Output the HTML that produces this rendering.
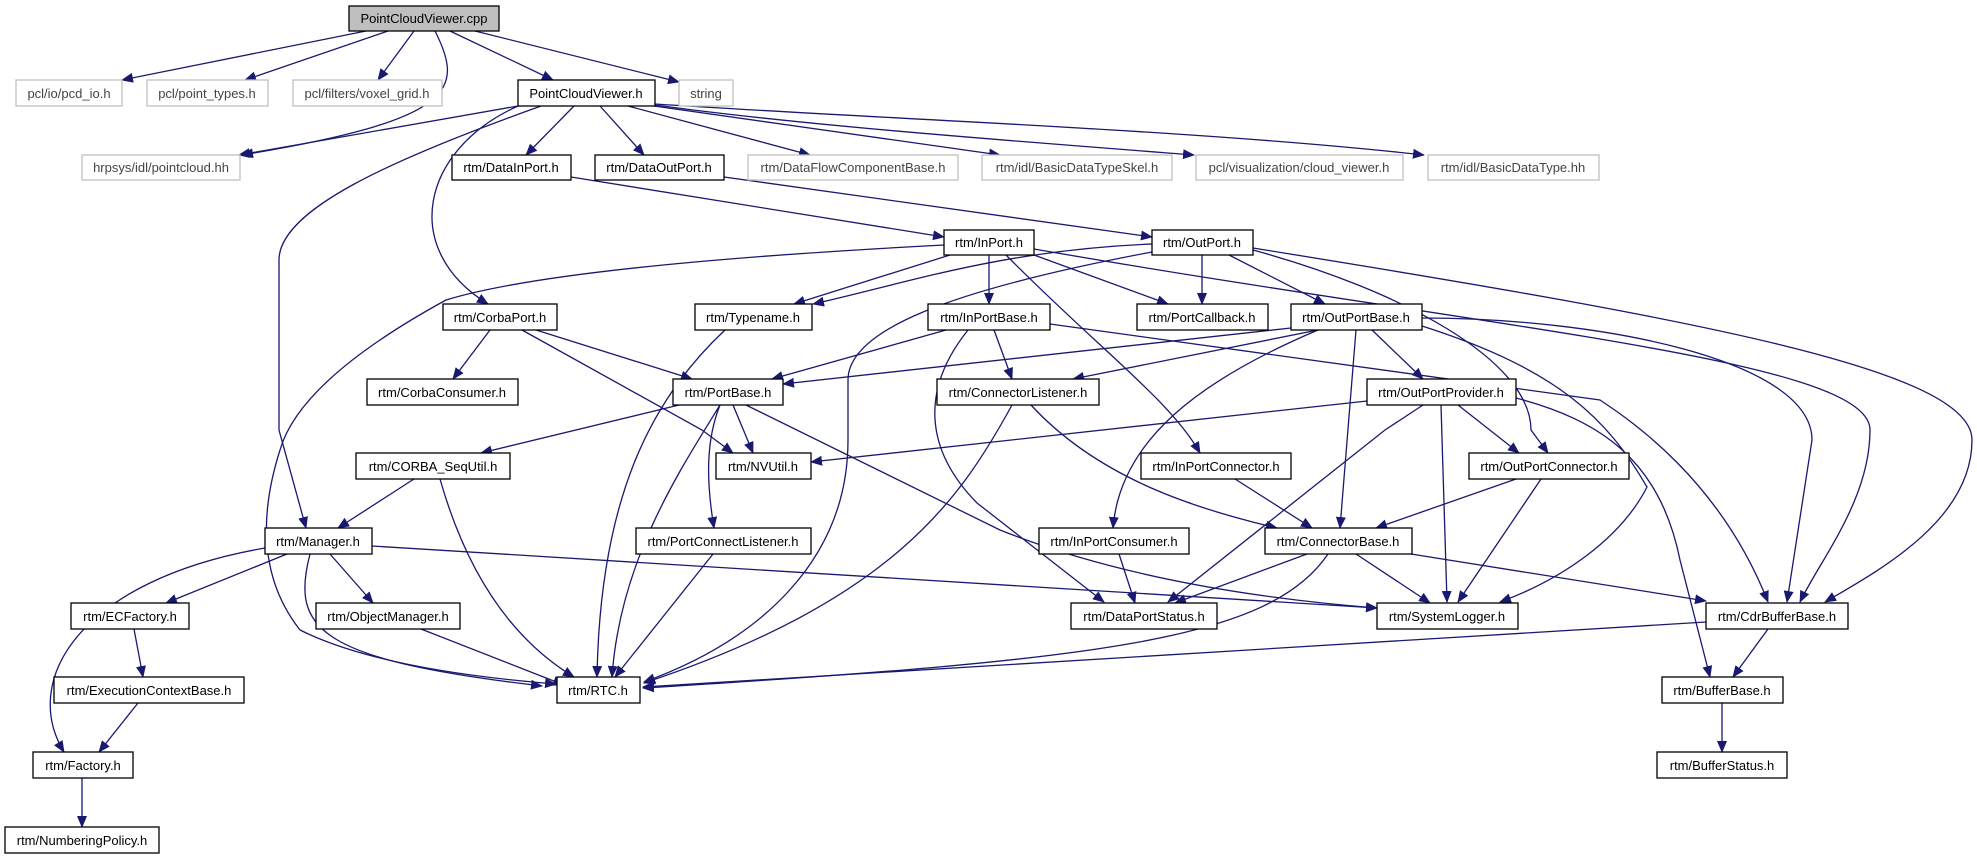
<!DOCTYPE html>
<html><head><meta charset="utf-8"><style>
html,body{margin:0;padding:0;background:#fff;}
svg{display:block;}
text{font-family:"Liberation Sans",sans-serif;font-size:13px;}
</style></head><body>
<svg width="1977" height="859" viewBox="0 0 1977 859" xmlns="http://www.w3.org/2000/svg">
<defs>
<marker id="a" markerUnits="userSpaceOnUse" markerWidth="12" markerHeight="10" refX="11" refY="5" orient="auto">
<path d="M0,0 L12,5 L0,10 z" fill="#191970"/>
</marker>
</defs>
<g fill="none" stroke="#191970" stroke-width="1.3" marker-end="url(#a)">
<!-- cpp -->
<path d="M366,31 L122,80"/>
<path d="M388,31 L245,80"/>
<path d="M414,31 L378,80"/>
<path d="M435,31 C465,90 455,120 242,155"/>
<path d="M450,31 L553,80"/>
<path d="M475,31 L679,82"/>
<!-- PointCloudViewer.h -->
<path d="M518,106 L239,155"/>
<path d="M541,106 C390,160 279,210 279,260 L279,430 L306,528"/>
<path d="M518,106 C420,150 400,250 488,304"/>
<path d="M574,106 L526,155"/>
<path d="M600,106 L644,155"/>
<path d="M628,106 L810,155"/>
<path d="M654,106 L1000,155"/>
<path d="M655,105 C800,125 1000,140 1194,155"/>
<path d="M655,104 C900,120 1200,130 1424,155"/>
<!-- DataInPort / DataOutPort -->
<path d="M571,177 L944,237"/>
<path d="M724,177 L1152,237"/>
<!-- InPort.h -->
<path d="M944,245 Q560,265 446,300 Q300,380 280,450 Q245,560 300,630 Q380,670 556,684"/>
<path d="M950,255 L794,304"/>
<path d="M989,255 L989,304"/>
<path d="M1034,255 L1168,304"/>
<path d="M1006,255 C1100,350 1170,400 1200,453"/>
<path d="M1034,249 C1500,330 1870,360 1870,430 C1870,500 1820,560 1800,602"/>
<!-- OutPort.h -->
<path d="M1152,244 C1000,250 900,285 813,304"/>
<path d="M1152,252 C950,290 848,330 848,380 L848,440 C848,560 760,640 644,682"/>
<path d="M1202,255 L1202,304"/>
<path d="M1229,255 L1325,304"/>
<path d="M1253,250 C1400,290 1531,360 1531,430 L1548,453"/>
<path d="M1253,248 C1700,320 1972,370 1972,440 C1972,520 1880,570 1825,602"/>
<!-- InPortBase -->
<path d="M946,330 L772,379"/>
<path d="M994,330 L1012,379"/>
<path d="M968,330 C920,390 925,450 977,503 L1104,602"/>
<path d="M1050,324 L1600,400 C1630,420 1720,480 1768,602"/>
<!-- OutPortBase -->
<path d="M1291,328 L783,384"/>
<path d="M1318,330 L1073,379"/>
<path d="M1318,330 C1200,380 1120,440 1113,528"/>
<path d="M1356,330 L1340,528"/>
<path d="M1372,330 L1423,379"/>
<path d="M1422,318 C1600,318 1812,360 1812,440 L1787,602"/>
<path d="M1422,326 C1560,370 1608,420 1647,487 C1620,540 1560,580 1500,602"/>
<!-- OutPortProvider -->
<path d="M1367,401 L811,462"/>
<path d="M1423,405 L1385,430 L1168,602"/>
<path d="M1441,405 L1447,602"/>
<path d="M1458,405 L1519,453"/>
<path d="M1516,398 C1600,420 1660,460 1680,560 L1710,677"/>
<!-- PortBase -->
<path d="M679,405 L481,453"/>
<path d="M733,405 L753,453"/>
<path d="M720,405 C680,470 620,560 612,677"/>
<path d="M720,405 C706,440 706,480 714,528"/>
<path d="M746,405 L1000,530 Q1150,590 1377,608"/>
<!-- CorbaPort -->
<path d="M490,330 L453,379"/>
<path d="M536,330 L692,379"/>
<path d="M522,330 L702,430 L733,453"/>
<!-- Typename -->
<path d="M725,330 C650,400 600,500 597,677"/>
<!-- ConnectorListener -->
<path d="M1012,405 C960,500 893,600 644,683"/>
<path d="M1031,405 C1100,480 1200,510 1277,528"/>
<!-- CORBA_SeqUtil -->
<path d="M414,479 L338,528"/>
<path d="M440,479 Q480,620 574,677"/>
<!-- connectors -->
<path d="M1235,479 L1312,528"/>
<path d="M1516,479 L1376,528"/>
<path d="M1541,479 L1458,602"/>
<!-- Manager -->
<path d="M372,546 L1377,608"/>
<path d="M265,548 C80,580 20,680 64,752"/>
<path d="M287,554 L166,603"/>
<path d="M310,554 C290,630 320,660 542,686"/>
<path d="M330,554 L373,603"/>
<!-- misc -->
<path d="M134,629 L143,677"/>
<path d="M138,703 L99,752"/>
<path d="M421,629 L564,685"/>
<path d="M713,554 L615,677"/>
<path d="M82,778 L82,827"/>
<path d="M1119,554 L1135,603"/>
<path d="M1307,554 L1175,603"/>
<path d="M1356,554 L1430,603"/>
<path d="M1328,554 C1270,640 1100,660 643,688"/>
<path d="M1411,554 L1706,601"/>
<path d="M1706,622 L643,687"/>
<path d="M1768,629 L1733,677"/>
<path d="M1722,703 L1722,752"/>
</g>
<g stroke-width="1.3">
<!-- gray nodes -->
<g fill="#fff" stroke="#bfbfbf">
<rect x="16" y="80" width="106" height="26"/>
<rect x="147" y="80" width="121" height="26"/>
<rect x="293" y="80" width="149" height="26"/>
<rect x="679" y="80" width="54" height="26"/>
<rect x="82" y="155" width="158" height="25"/>
<rect x="748" y="155" width="210" height="25"/>
<rect x="982" y="155" width="190" height="25"/>
<rect x="1196" y="155" width="207" height="25"/>
<rect x="1428" y="155" width="171" height="25"/>
</g>
<rect x="349" y="6" width="150" height="25" fill="#bfbfbf" stroke="#000"/>
<g fill="#fff" stroke="#000">
<rect x="518" y="80" width="137" height="26"/>
<rect x="452" y="155" width="119" height="25"/>
<rect x="595" y="155" width="129" height="25"/>
<rect x="944" y="230" width="90" height="25"/>
<rect x="1152" y="230" width="101" height="25"/>
<rect x="443" y="304" width="114" height="26"/>
<rect x="695" y="304" width="117" height="26"/>
<rect x="928" y="304" width="122" height="26"/>
<rect x="1137" y="304" width="131" height="26"/>
<rect x="1291" y="304" width="131" height="26"/>
<rect x="367" y="379" width="151" height="26"/>
<rect x="673" y="379" width="110" height="26"/>
<rect x="937" y="379" width="162" height="26"/>
<rect x="1367" y="379" width="149" height="26"/>
<rect x="356" y="453" width="154" height="26"/>
<rect x="716" y="453" width="95" height="26"/>
<rect x="1141" y="453" width="150" height="26"/>
<rect x="1469" y="453" width="160" height="26"/>
<rect x="265" y="528" width="107" height="26"/>
<rect x="636" y="528" width="175" height="26"/>
<rect x="1039" y="528" width="150" height="26"/>
<rect x="1265" y="528" width="147" height="26"/>
<rect x="71" y="603" width="118" height="26"/>
<rect x="316" y="603" width="144" height="26"/>
<rect x="1071" y="603" width="146" height="26"/>
<rect x="1377" y="603" width="141" height="26"/>
<rect x="1706" y="603" width="142" height="26"/>
<rect x="54" y="677" width="190" height="26"/>
<rect x="557" y="677" width="83" height="26"/>
<rect x="1662" y="677" width="121" height="26"/>
<rect x="33" y="752" width="100" height="26"/>
<rect x="1657" y="752" width="130" height="26"/>
<rect x="5" y="827" width="154" height="26"/>
</g>
</g>
<g text-anchor="middle" fill="#000">
<g fill="#444">
<text x="69" y="98">pcl/io/pcd_io.h</text>
<text x="207" y="98">pcl/point_types.h</text>
<text x="367" y="98">pcl/filters/voxel_grid.h</text>
<text x="706" y="98">string</text>
<text x="161" y="172">hrpsys/idl/pointcloud.hh</text>
<text x="853" y="172">rtm/DataFlowComponentBase.h</text>
<text x="1077" y="172">rtm/idl/BasicDataTypeSkel.h</text>
<text x="1299" y="172">pcl/visualization/cloud_viewer.h</text>
<text x="1513" y="172">rtm/idl/BasicDataType.hh</text>
</g>
<text x="424" y="23">PointCloudViewer.cpp</text>
<text x="586" y="98">PointCloudViewer.h</text>
<text x="511" y="172">rtm/DataInPort.h</text>
<text x="659" y="172">rtm/DataOutPort.h</text>
<text x="989" y="247">rtm/InPort.h</text>
<text x="1202" y="247">rtm/OutPort.h</text>
<text x="500" y="322">rtm/CorbaPort.h</text>
<text x="753" y="322">rtm/Typename.h</text>
<text x="989" y="322">rtm/InPortBase.h</text>
<text x="1202" y="322">rtm/PortCallback.h</text>
<text x="1356" y="322">rtm/OutPortBase.h</text>
<text x="442" y="397">rtm/CorbaConsumer.h</text>
<text x="728" y="397">rtm/PortBase.h</text>
<text x="1018" y="397">rtm/ConnectorListener.h</text>
<text x="1441" y="397">rtm/OutPortProvider.h</text>
<text x="433" y="471">rtm/CORBA_SeqUtil.h</text>
<text x="763" y="471">rtm/NVUtil.h</text>
<text x="1216" y="471">rtm/InPortConnector.h</text>
<text x="1549" y="471">rtm/OutPortConnector.h</text>
<text x="318" y="546">rtm/Manager.h</text>
<text x="723" y="546">rtm/PortConnectListener.h</text>
<text x="1114" y="546">rtm/InPortConsumer.h</text>
<text x="1338" y="546">rtm/ConnectorBase.h</text>
<text x="130" y="621">rtm/ECFactory.h</text>
<text x="388" y="621">rtm/ObjectManager.h</text>
<text x="1144" y="621">rtm/DataPortStatus.h</text>
<text x="1447" y="621">rtm/SystemLogger.h</text>
<text x="1777" y="621">rtm/CdrBufferBase.h</text>
<text x="149" y="695">rtm/ExecutionContextBase.h</text>
<text x="598" y="695">rtm/RTC.h</text>
<text x="1722" y="695">rtm/BufferBase.h</text>
<text x="83" y="770">rtm/Factory.h</text>
<text x="1722" y="770">rtm/BufferStatus.h</text>
<text x="82" y="845">rtm/NumberingPolicy.h</text>
</g>
</svg>
</body></html>
